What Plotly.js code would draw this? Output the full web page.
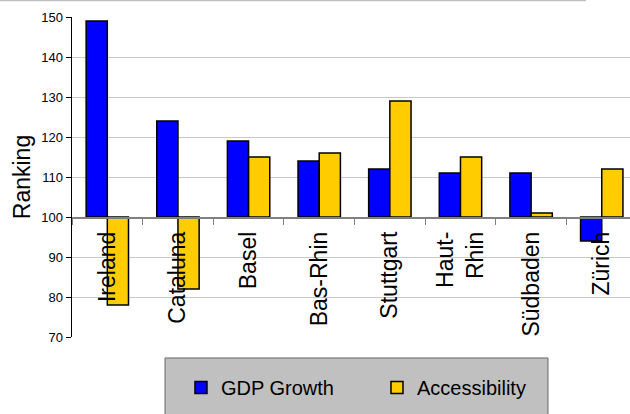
<!DOCTYPE html>
<html>
<head>
<meta charset="utf-8">
<script src="https://cdn.plot.ly/plotly-3.0.1.min.js"></script>
<style>html,body{margin:0;padding:0;background:#fff;}#chart{width:630px;height:414px;}</style>
</head>
<body>
<div id="chart"></div>
<script>
const categories = ["Ireland", "Cataluna", "Basel", "Bas-Rhin", "Stuttgart", "Haut-<br>Rhin", "Südbaden", "Zürich"];
const gdpGrowth = [149, 124, 119, 114, 112, 111, 111, 94];
const accessibility = [78, 82, 115, 116, 129, 115, 101, 112];
const baseline = 100;
const yTicks = [70, 80, 90, 100, 110, 120, 130, 140, 150];

const FONT = '"Liberation Sans", Arial, sans-serif';

const traces = [
  {
    type: 'bar', name: 'GDP Growth', x: categories,
    y: gdpGrowth.map(v => v - baseline), base: baseline,
    marker: {color: '#0000ff', line: {color: '#000000', width: 1.5}}
  },
  {
    type: 'bar', name: 'Accessibility', x: categories,
    y: accessibility.map(v => v - baseline), base: baseline,
    marker: {color: '#ffcc00', line: {color: '#000000', width: 1.5}}
  }
];

const yMin = 70, yMax = 150;
const layout = {
  width: 630, height: 414,
  margin: {l: 72, r: 0, t: 17, b: 77, autoexpand: false},
  paper_bgcolor: '#ffffff', plot_bgcolor: '#ffffff',
  font: {family: FONT, color: '#000000'},
  barmode: 'group', bargap: 0.4, bargroupgap: 0,
  showlegend: true,
  xaxis: {
    type: 'category', range: [-0.5, 7.4],
    anchor: 'free', position: (baseline - yMin) / (yMax - yMin),
    showline: true, linecolor: '#808080', linewidth: 1.5,
    ticks: 'outside', tickson: 'boundaries', ticklen: 6, tickcolor: '#808080', tickwidth: 1,
    ticklabelstandoff: 4,
    tickangle: -90, tickfont: {size: 23, family: FONT, color: '#000000'},
    showgrid: false, zeroline: false, fixedrange: true
  },
  yaxis: {
    range: [yMin, yMax], tickvals: yTicks,
    showline: true, linecolor: '#000000', linewidth: 1.5,
    ticks: 'outside', ticklen: 5, tickcolor: '#000000',
    tickfont: {size: 13, family: FONT, color: '#000000'},
    showgrid: true, gridcolor: '#c8c8c8', gridwidth: 1,
    zeroline: false,
    title: {text: 'Ranking', font: {size: 23, family: FONT, color: '#000000'}, standoff: 4},
    fixedrange: true
  },
  legend: {
    orientation: 'h', x: 0.1953, xanchor: 'left', y: -0.0965, yanchor: 'top',
    bgcolor: 'rgba(0,0,0,0)', borderwidth: 0,
    font: {size: 20, family: FONT, color: '#000000'},
    entrywidth: 151, traceorder: 'normal'
  },
  shapes: [
    {type: 'rect', xref: 'paper', yref: 'paper', x0: 0.1667, x1: 0.853, y0: -0.0656, y1: -0.32,
     fillcolor: '#c0c0c0', line: {color: '#666666', width: 1}, layer: 'below'},
    {type: 'line', xref: 'paper', yref: 'paper', x0: -0.129, x1: 0.921, y0: 1.0516, y1: 1.0516,
     line: {color: '#c0c0c0', width: 1.5}}
  ]
};

Plotly.newPlot('chart', traces, layout, {displayModeBar: false, staticPlot: true});
</script>
</body>
</html>
